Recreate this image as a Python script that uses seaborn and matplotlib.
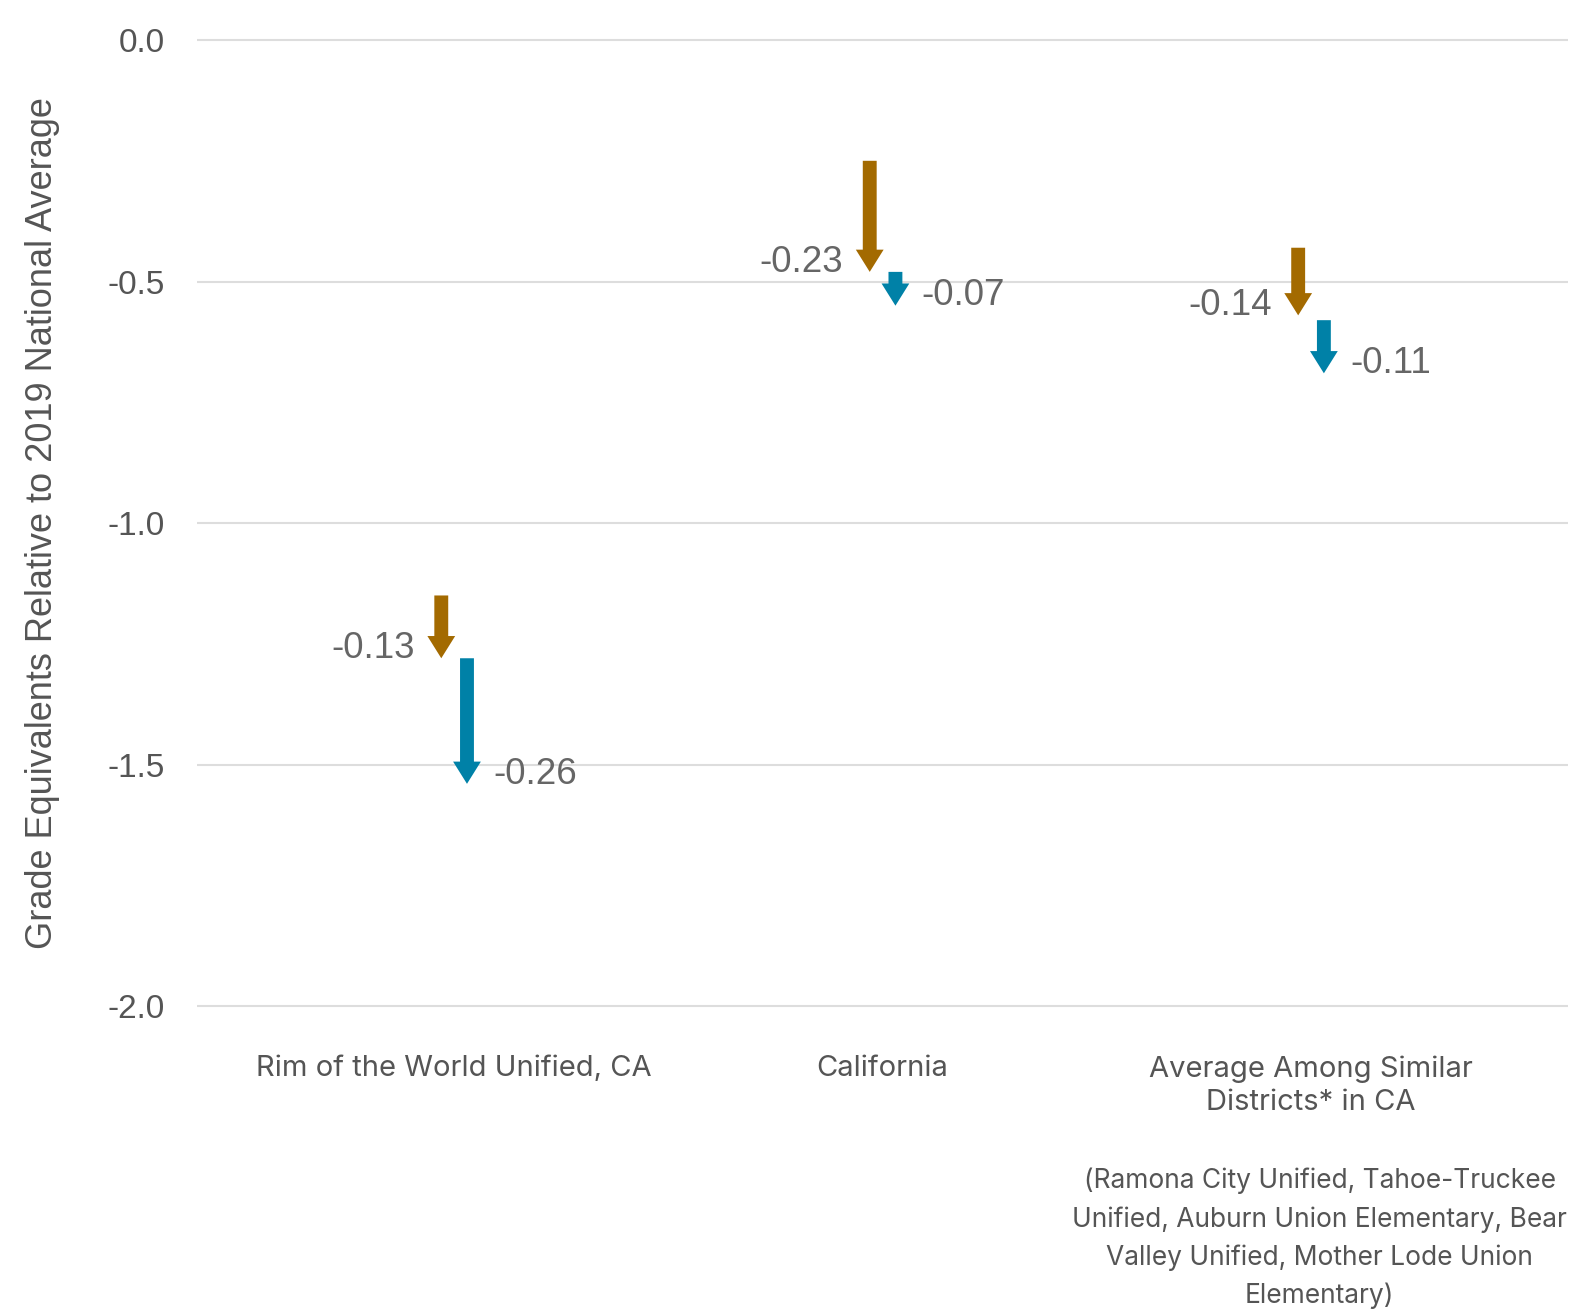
import matplotlib
matplotlib.use("Agg")
import matplotlib.pyplot as plt
import seaborn as sns

categories = ["Rim of the World Unified, CA", "California", "Average Among Similar\nDistricts* in CA"]
math_start = [-1.15, -0.25, -0.43]
math_change = [-0.13, -0.23, -0.14]
reading_start = [-1.28, -0.48, -0.58]
reading_change = [-0.26, -0.07, -0.11]
y_ticks = [0.0, -0.5, -1.0, -1.5, -2.0]
note = ("(Ramona City Unified, Tahoe-Truckee\nUnified, Auburn Union Elementary, Bear\n"
        "Valley Unified, Mother Lode Union\nElementary)")

BROWN = "#A36A00"
BLUE = "#0081A7"
TEXT = "#666666"

sns.set_theme(style="whitegrid")
plt.rcParams["font.family"] = ["Liberation Sans", "DejaVu Sans"]

fig = plt.figure(figsize=(15.79, 13.11), dpi=100)
ax = fig.add_axes([0.1248, 0.2216, 0.8683, 0.7589])

ax.set_xlim(-0.6, 2.6)
ax.set_ylim(-2.03, 0.03)
ax.set_yticks(y_ticks)
ax.set_yticklabels([f"{t:.1f}" for t in y_ticks], fontsize=24, color="#555555")
ax.set_xticks(range(len(categories)))
ax.set_xticklabels(categories, fontsize=21, color="#555555", family=["Inter", "DejaVu Sans"],
                   linespacing=1.3)
ax.tick_params(axis="y", pad=23, length=0)
ax.tick_params(axis="x", pad=25, length=0)
ax.grid(axis="x", visible=False)
ax.grid(axis="y", color="#dddddd", linewidth=1.5)
for s in ax.spines.values():
    s.set_visible(False)

ax.set_ylabel("Grade Equivalents Relative to 2019 National Average", fontsize=26,
              color="#555555")
ax.yaxis.set_label_coords(-0.1, 0.5)

offset = 0.03
style = "simple,head_length=0.8,head_width=1.0,tail_width=0.5"
for i in range(len(categories)):
    for x, y0, dy, col, side in [(i - offset, math_start[i], math_change[i], BROWN, -1),
                                 (i + offset, reading_start[i], reading_change[i], BLUE, 1)]:
        y1 = y0 + dy
        ax.annotate("", xy=(x, y1), xytext=(x, y0),
                    arrowprops=dict(arrowstyle=style, mutation_scale=20, color=col,
                                    shrinkA=0, shrinkB=0, lw=0))
        ax.annotate(f"{dy:.2f}", xy=(x, y1), xytext=(19 * side, 7), textcoords="offset points",
                    ha="left" if side > 0 else "right", va="center", fontsize=26.5, color=TEXT)

ax.annotate(note, xy=(2.02, 0), xycoords=("data", "axes fraction"), xytext=(0, -106),
            textcoords="offset points", ha="center", va="top", fontsize=19,
            color="#555555", linespacing=1.58, family=["Inter", "DejaVu Sans"],
            annotation_clip=False)

fig.savefig("out.png", dpi=100)
